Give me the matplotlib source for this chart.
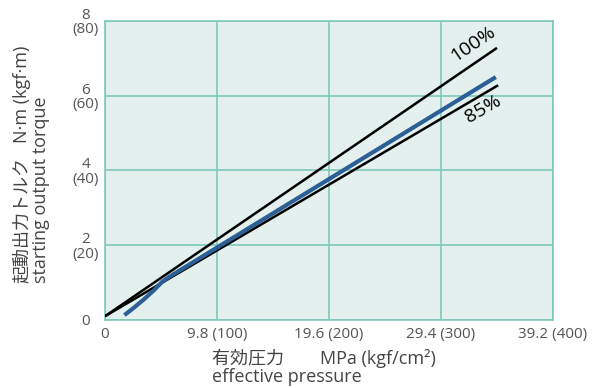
import matplotlib
matplotlib.use("Agg")
import matplotlib.pyplot as plt

plt.rcParams['font.family'] = ['Open Sans', 'Noto Sans CJK JP', 'DejaVu Sans']

# Data (MPa, N·m)
line100_x = [0.0, 34.3]
line100_y = [0.1, 7.28]
line85_x = [0.0, 34.4]
line85_y = [0.1, 6.28]
actual_x = [1.7, 2.5, 3.4, 4.3, 5.0, 5.7, 34.2]
actual_y = [0.13, 0.32, 0.55, 0.80, 1.02, 1.17, 6.5]

xticks = [0, 9.8, 19.6, 29.4, 39.2]
xtick_labels = ["0", "9.8 (100)", "19.6 (200)", "29.4 (300)", "39.2 (400)"]
yticks = [0, 2, 4, 6, 8]
ytick_labels = ["0", "2\n(20)", "4\n(40)", "6\n(60)", "8\n(80)"]

bg = "#e4f0ed"
grid = "#80c8bc"
blue = "#2b5f95"
tickc = "#555555"

fig = plt.figure(figsize=(5.93, 3.88), dpi=100)
ax = fig.add_axes([0.177, 0.1753, 0.7555, 0.7706])
ax.set_facecolor(bg)
ax.set_xlim(0, 39.2)
ax.set_ylim(0, 8)
ax.set_xticks(xticks)
ax.set_xticklabels(xtick_labels)
ax.set_yticks(yticks)
ax.set_yticklabels(ytick_labels, ha='center', linespacing=0.95)
ax.tick_params(axis='both', length=0, colors=tickc, labelsize=11)
ax.tick_params(axis='y', pad=14)
ax.tick_params(axis='x', pad=5)
ax.grid(True, color=grid, lw=1.2)
for s in ax.spines.values():
    s.set_color(grid)
    s.set_linewidth(1.2)

ax.plot(line100_x, line100_y, color='black', lw=1.8, solid_capstyle='butt', zorder=3)
ax.plot(line85_x, line85_y, color='black', lw=1.8, solid_capstyle='butt', zorder=3)
ax.plot(actual_x, actual_y, color=blue, lw=3, solid_capstyle='butt', zorder=4)

ax.text(32.2, 7.4, "100%", rotation=34, fontsize=14, ha='center', va='center', color='black')
ax.text(33.1, 5.65, "85%", rotation=30, fontsize=14, ha='center', va='center', color='black')

# axis labels
tc = '#444444'
fs = 13
fig.text(212/593, 1-358/388, "有効圧力　　MPa (kgf/cm²)", fontsize=fs, color=tc, ha='left', va='center')
fig.text(212/593, 1-377/388, "effective pressure", fontsize=fs, color=tc, ha='left', va='center')
fig.text(22/593, 1-283/388, "起動出力トルク", fontsize=fs, color=tc, rotation=90, ha='center', va='bottom')
fig.text(22/593, 1-143/388, "N·m (kgf·m)", fontsize=fs, color=tc, rotation=90, ha='center', va='bottom')
fig.text(41/593, 1-283/388, "starting output torque", fontsize=fs, color=tc, rotation=90, ha='center', va='bottom')

fig.savefig("out.png", dpi=100)
